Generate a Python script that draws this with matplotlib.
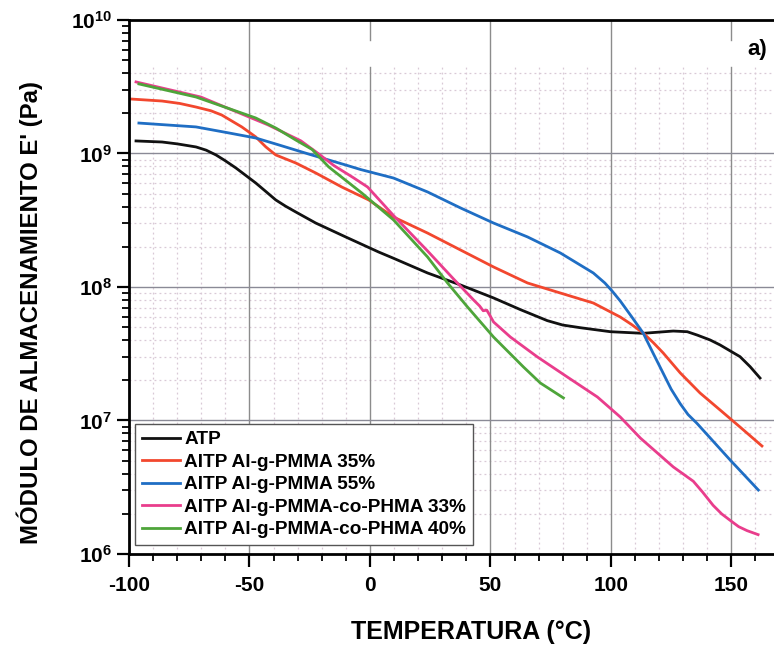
import numpy as np
import matplotlib.pyplot as plt
from matplotlib.ticker import FixedLocator, LogLocator, NullFormatter, FuncFormatter

plt.rcParams['font.family'] = ['Liberation Sans', 'DejaVu Sans']
plt.rcParams['font.weight'] = 'bold'
plt.rcParams['axes.unicode_minus'] = False
plt.rcParams['mathtext.fontset'] = 'custom'
plt.rcParams['mathtext.rm'] = 'Liberation Sans:bold'
plt.rcParams['mathtext.bf'] = 'Liberation Sans:bold'

# Storage modulus curves: temperature (°C) and log10(E' / Pa)
t_atp = [-97.1, -86.3, -80.0, -72.2, -68.0, -63.9, -60.0, -55.6, -51.5, -47.4, -43.0, -39.1,
         -35.0, -30.8, -22.5, -10.1, 3.6, 9.8, 23.9, 37.6, 51.3, 62.5, 73.6, 80.0, 87.3, 99.8,
         113.4, 125.9, 131.7, 135.8, 141.2, 145.3, 153.6, 157.8, 161.9]
e_atp = [9.094, 9.086, 9.072, 9.049, 9.025, 8.989, 8.945, 8.891, 8.835, 8.779, 8.712, 8.652,
         8.605, 8.562, 8.479, 8.375, 8.262, 8.215, 8.105, 8.015, 7.918, 7.830, 7.748, 7.715,
         7.695, 7.665, 7.653, 7.670, 7.665, 7.640, 7.603, 7.566, 7.478, 7.403, 7.318]

t_35 = [-99.2, -86.3, -79.0, -72.2, -66.0, -61.5, -53.2, -47.4, -43.2, -39.1, -30.8, -22.5,
        -11.7, -0.5, 9.8, 23.9, 37.6, 51.3, 65.4, 79.0, 92.7, 103.9, 108.5, 113.4, 117.5,
        121.7, 128.8, 137.0, 145.3, 153.6, 162.7]
e_35 = [9.408, 9.393, 9.375, 9.348, 9.320, 9.288, 9.199, 9.124, 9.049, 8.989, 8.929, 8.854,
        8.749, 8.652, 8.524, 8.404, 8.277, 8.150, 8.030, 7.955, 7.880, 7.775, 7.720, 7.655,
        7.585, 7.506, 7.356, 7.206, 7.079, 6.951, 6.809]

t_55 = [-95.9, -72.2, -58.6, -47.4, -37.8, -24.2, -10.1, -3.9, 9.8, 23.9, 37.6, 51.3, 65.4,
        79.0, 92.7, 97.5, 100.5, 103.9, 108.5, 113.4, 117.5, 121.7, 125.0, 128.8, 132.0, 135.7,
        149.5, 161.2]
e_55 = [9.228, 9.199, 9.154, 9.116, 9.064, 8.989, 8.914, 8.880, 8.816, 8.712, 8.592, 8.479,
        8.375, 8.255, 8.105, 8.030, 7.970, 7.895, 7.780, 7.655, 7.505, 7.354, 7.235, 7.125,
        7.045, 6.979, 6.704, 6.479]

t_co33 = [-97.1, -70.2, -42.4, -28.7, -21.5, -15.0, -7.0, -1.0, 9.8, 23.9, 34.7, 43.0, 45.5,
          47.0, 48.5, 50.0, 51.3, 58.3, 69.5, 81.9, 94.4, 103.9, 112.2, 125.9, 134.2, 138.0,
          142.4, 146.0, 149.5, 153.0, 156.5, 161.1]
e_co33 = [9.536, 9.423, 9.215, 9.095, 9.000, 8.910, 8.820, 8.749, 8.535, 8.270, 8.060, 7.903,
          7.858, 7.822, 7.826, 7.780, 7.738, 7.625, 7.476, 7.326, 7.176, 7.026, 6.869, 6.652,
          6.545, 6.465, 6.365, 6.300, 6.252, 6.205, 6.175, 6.145]

t_co40 = [-95.9, -72.2, -47.4, -39.0, -30.8, -24.0, -17.1, -3.4, 9.8, 23.9, 32.2, 40.5, 51.3,
          63.7, 70.7, 80.3]
e_co40 = [9.521, 9.423, 9.266, 9.190, 9.101, 9.030, 8.899, 8.704, 8.502, 8.225, 8.030, 7.850,
          7.625, 7.401, 7.281, 7.169]

series = [
    ('ATP', t_atp, e_atp, '#111111'),
    ('AITP Al-g-PMMA 35%', t_35, e_35, '#f2472e'),
    ('AITP Al-g-PMMA 55%', t_55, e_55, '#1f6ec4'),
    ('AITP Al-g-PMMA-co-PHMA 33%', t_co33, e_co33, '#e93d8c'),
    ('AITP Al-g-PMMA-co-PHMA 40%', t_co40, e_co40, '#4ea53a'),
]

fig = plt.figure(figsize=(7.74, 6.49), dpi=100)
ax = fig.add_axes([0.1667, 0.1464, 0.8333, 0.8228])
ax.set_yscale('log')
ax.set_xlim(-100, 167.7)
ax.set_ylim(1e6, 1e10)

# grid drawn by hand: the dotted minor lines stop short of the top band
top_band = 0.912
grid_gap = 0.9625
for x in np.arange(-90, 170, 10):
    if x % 50:
        ax.axvline(x, ymax=top_band, color='#d9c9d6', lw=0.9, ls=(0, (1.5, 2.5)), zorder=0.5)
for dec in range(6, 10):
    for m in range(2, 10):
        v = m * 10.0 ** dec
        if v < 4.4e9:
            ax.axhline(v, color='#d9c9d6', lw=0.9, ls=(0, (1.5, 2.5)), zorder=0.5)
for x in [-50, 50, 100]:
    ax.axvline(x, color='#8c8c8c', lw=1.0, zorder=0.6)
for x in [0, 150]:
    ax.axvline(x, ymax=top_band, color='#8c8c8c', lw=1.0, zorder=0.6)
    ax.axvline(x, ymin=grid_gap, color='#8c8c8c', lw=1.0, zorder=0.6)
for v in [1e7, 1e8, 1e9]:
    ax.axhline(v, color='#8a8a96', lw=1.0, zorder=0.6)

for label, t, e, color in series:
    ax.plot(t, 10 ** np.array(e), color=color, lw=2.0, label=label, zorder=2)

# ticks
ax.xaxis.set_major_locator(FixedLocator([-100, -50, 0, 50, 100, 150]))
ax.xaxis.set_minor_locator(FixedLocator(np.arange(-90, 170, 10)))
ax.yaxis.set_major_locator(LogLocator(base=10, numticks=10))
ax.yaxis.set_minor_locator(LogLocator(base=10, subs=np.arange(2, 10), numticks=20))
ax.yaxis.set_minor_formatter(NullFormatter())
ax.yaxis.set_major_formatter(FuncFormatter(lambda v, p: r'$\mathbf{10^{%d}}$' % round(np.log10(v))))
ax.tick_params(which='major', direction='out', length=9, width=1.6, labelsize=15, pad=7)
ax.tick_params(which='minor', direction='out', length=5, width=1.3)
ax.tick_params(axis='y', which='major', pad=3)

for side in ['left', 'bottom', 'top']:
    ax.spines[side].set_linewidth(2.0)
ax.spines['right'].set_visible(False)

for lab in ax.get_xticklabels():
    lab.set_fontweight('bold')

fig.text(0.609, 0.026, 'TEMPERATURA (°C)', fontsize=18, fontweight='bold',
         ha='center', va='center')
fig.text(0.039, 0.519, "MÓDULO DE ALMACENAMIENTO E' (Pa)", fontsize=17.3, fontweight='bold',
         ha='center', va='center', rotation=90)

ax.text(0.989, 0.945, 'a)', transform=ax.transAxes, ha='right', va='center',
        fontsize=16, fontweight='bold', bbox=dict(facecolor='white', edgecolor='none', pad=2))

leg = ax.legend(loc='lower left', bbox_to_anchor=(0.0093, 0.017), fontsize=13.7,
                handlelength=2.0, handletextpad=0.25, labelspacing=0.27, borderpad=0.35,
                fancybox=False, framealpha=1.0, edgecolor='#555555', borderaxespad=0)
leg.get_frame().set_linewidth(1.0)
for txt in leg.get_texts():
    txt.set_fontweight('bold')

fig.savefig('out.png', dpi=100)
